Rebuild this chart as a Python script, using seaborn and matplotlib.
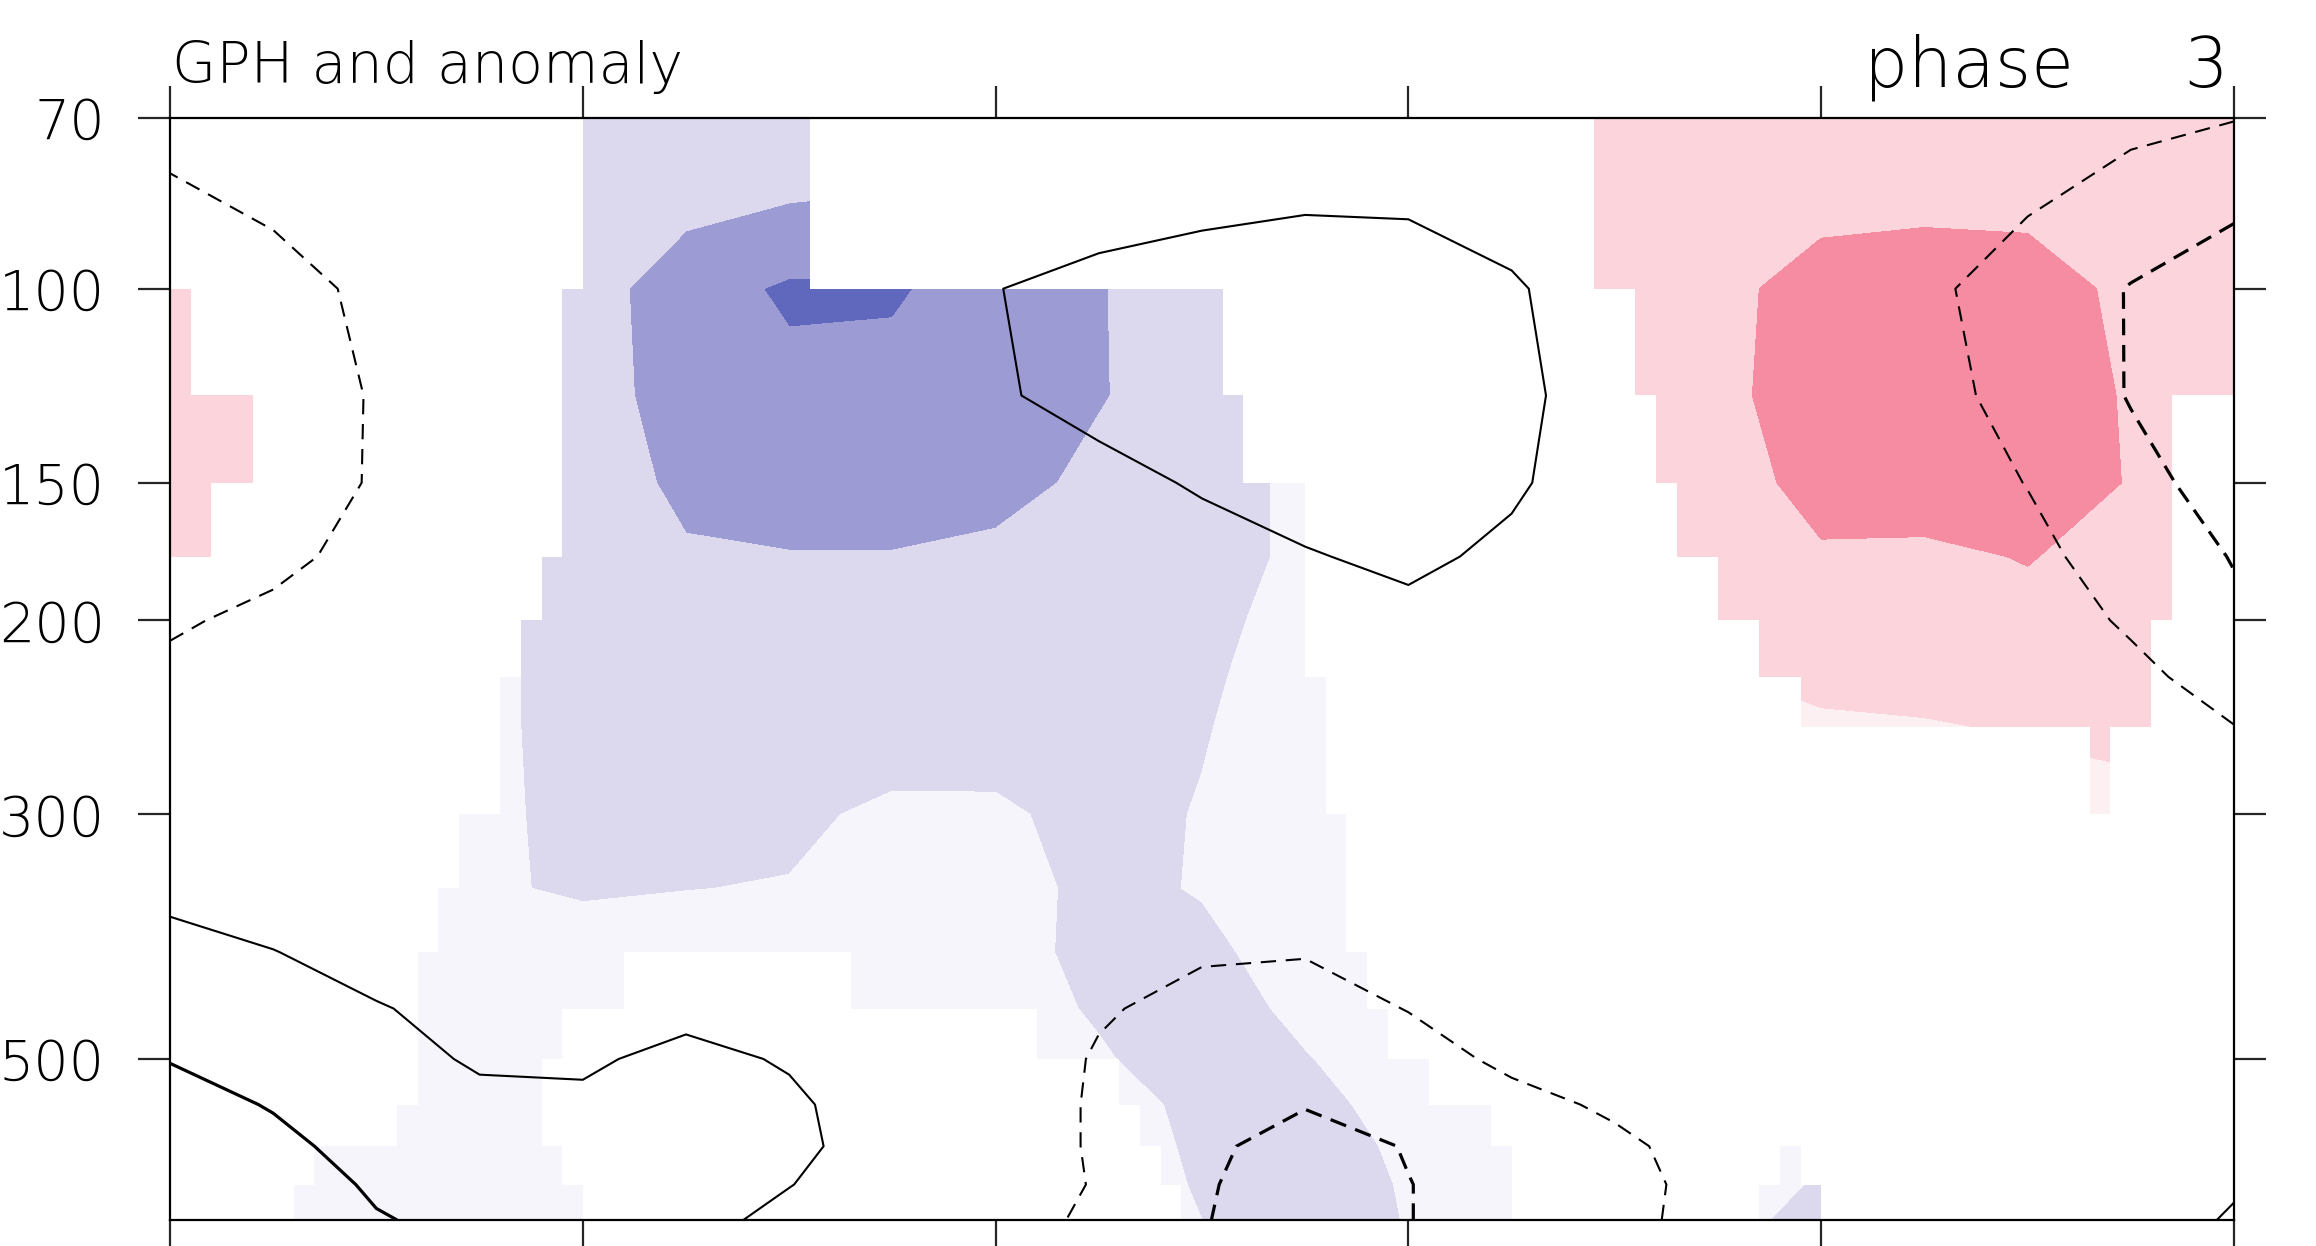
import numpy as np
import matplotlib
matplotlib.use("Agg")
import matplotlib.pyplot as plt
from matplotlib.colors import ListedColormap
from matplotlib.ticker import NullLocator
import seaborn as sns

# grid of the fields: x position (0..100) and pressure levels (hPa)
x_pts = [0, 5, 10, 15, 20, 25, 30, 35, 40, 45, 50, 55, 60, 65, 70, 75, 80, 85, 90, 95, 100]
plev = [70, 100, 125, 150, 175, 200, 225, 250, 300, 350, 400, 450, 500, 550, 600, 650, 700]

# shaded anomaly, one row per pressure level
anom = [
    [0.3, 0.0, -0.4, -0.8, -1.1, -1.1, -1.05, -1.3, -1.2, -1.0, -0.6, -0.2, 0.3, 1.0, 1.3, 1.4, 1.4, 1.4, 1.3, 1.3, 1.3],
    [1.3, 0.8, -0.3, -1.0, -1.55, -2.55, -3.15, -3.1, -2.6, -2.05, -1.5, -1.0, -0.2, 0.5, 1.3, 1.8, 2.3, 2.4, 2.4, 1.8, 1.5],
    [1.5, 1.0, 0.2, -1.2, -1.6, -2.4, -2.7, -2.7, -2.5, -2.05, -1.6, -1.2, -0.4, 0.5, 1.2, 1.8, 2.4, 2.6, 2.6, 1.9, 1.4],
    [1.5, 1.0, 0.0, -1.2, -1.5, -2.2, -2.5, -2.5, -2.3, -1.8, -1.4, -0.8, -0.2, 0.4, 1.1, 1.6, 2.3, 2.5, 2.5, 1.95, 1.4],
    [1.3, 0.8, -0.2, -1.2, -1.5, -1.9, -1.95, -1.95, -1.8, -1.5, -1.2, -0.9, -0.3, 0.3, 1.0, 1.5, 1.9, 1.8, 2.05, 1.6, 1.2],
    [0.8, 0.3, -1.0, -1.3, -1.5, -1.7, -1.75, -1.7, -1.6, -1.4, -1.15, -0.8, -0.3, 0.2, 0.9, 1.3, 1.6, 1.6, 1.7, 1.4, 1.0],
    [0.4, 0.0, -0.6, -0.8, -1.3, -1.5, -1.6, -1.6, -1.5, -1.3, -1.1, -0.7, -0.3, 0.2, 0.6, 0.9, 1.3, 1.4, 1.5, 1.4, 0.9],
    [0.2, -0.2, -0.6, -0.8, -1.3, -1.45, -1.5, -1.5, -1.4, -1.3, -1.05, -0.6, -0.2, 0.1, 0.4, 0.6, 0.8, 0.9, 1.1, 1.3, 0.8],
    [0.0, -0.3, -0.6, -0.8, -1.25, -1.3, -1.2, -0.8, -0.85, -1.3, -0.95, -0.6, -0.2, 0.0, 0.2, 0.3, 0.4, 0.4, 0.5, 0.6, 0.4],
    [-0.1, -0.3, -0.5, -0.9, -1.1, -1.02, -0.95, -0.6, -0.7, -1.2, -0.95, -0.6, -0.3, 0.0, 0.1, 0.1, 0.1, 0.1, 0.2, 0.2, 0.1],
    [-0.1, -0.2, -0.5, -0.6, -0.6, -0.5, -0.5, -0.5, -0.6, -1.3, -1.2, -0.6, -0.2, 0.0, 0.0, 0.0, 0.0, 0.0, 0.0, 0.0, 0.0],
    [-0.1, -0.2, -0.4, -0.5, -0.5, -0.4, -0.4, -0.4, -0.6, -1.1, -1.4, -0.8, -0.3, 0.0, 0.0, 0.0, 0.0, 0.0, 0.0, 0.0, 0.0],
    [-0.1, -0.3, -0.4, -0.45, -0.45, -0.4, -0.35, -0.4, -0.5, -0.9, -1.5, -1.05, -0.5, -0.2, 0.0, 0.0, 0.0, 0.0, 0.0, 0.0, 0.0],
    [-0.1, -0.3, -0.4, -0.45, -0.45, -0.4, -0.35, -0.4, -0.4, -0.5, -1.3, -1.25, -0.7, -0.3, -0.1, -0.2, -0.3, -0.1, 0.0, 0.0, 0.0],
    [-0.1, -0.3, -0.4, -0.45, -0.45, -0.4, -0.35, -0.4, -0.4, -0.4, -1.2, -1.5, -0.8, -0.3, -0.2, -0.5, -0.9, -0.2, 0.0, 0.0, 0.0],
    [-0.1, -0.2, -0.4, -0.45, -0.45, -0.4, -0.35, -0.4, -0.4, -0.4, -1.1, -1.6, -0.9, -0.3, -0.2, -0.5, -1.1, -0.3, 0.0, 0.0, 0.0],
    [-0.1, -0.2, -0.4, -0.45, -0.45, -0.4, -0.35, -0.4, -0.4, -0.4, -1.0, -1.6, -0.95, -0.3, -0.2, -0.8, -1.2, -0.3, 0.0, 0.0, 0.0],
]

# GPH field for the contour lines
gph = [
    [-0.8, -0.6, -0.4, -0.2, 0.0, 0.1, 0.15, 0.2, 0.2, 0.2, 0.35, 0.45, 0.45, 0.3, 0.2, 0.0, -0.2, -0.4, -0.6, -0.8, -0.97],
    [-1.5, -1.25, -0.85, -0.5, -0.2, 0.1, 0.3, 0.6, 0.98, 1.25, 1.4, 1.5, 1.45, 1.1, 0.5, -0.2, -0.5, -0.85, -1.35, -2.05, -2.76],
    [-1.6, -1.35, -0.95, -0.6, -0.3, 0.0, 0.3, 0.6, 0.9, 1.3, 1.45, 1.5, 1.45, 1.2, 0.6, 0.0, -0.3, -0.7, -1.3, -2.05, -2.7],
    [-1.55, -1.3, -0.95, -0.6, -0.3, -0.1, 0.1, 0.3, 0.4, 0.7, 1.1, 1.3, 1.35, 1.1, 0.6, 0.1, -0.2, -0.6, -1.02, -1.7, -2.4],
    [-1.35, -1.15, -0.8, -0.5, -0.3, -0.1, 0.1, 0.2, 0.3, 0.45, 0.6, 0.95, 1.15, 0.85, 0.4, 0.0, -0.2, -0.5, -0.8, -1.35, -2.05],
    [-1.08, -0.85, -0.6, -0.4, -0.2, 0.0, 0.1, 0.15, 0.2, 0.3, 0.4, 0.6, 0.8, 0.6, 0.3, 0.0, -0.2, -0.4, -0.6, -1.1, -1.8],
    [-0.85, -0.65, -0.45, -0.3, -0.1, 0.0, 0.1, 0.1, 0.15, 0.2, 0.3, 0.4, 0.5, 0.4, 0.2, 0.0, -0.2, -0.3, -0.5, -0.8, -1.35],
    [-0.5, -0.4, -0.3, -0.2, -0.1, 0.0, 0.05, 0.1, 0.1, 0.1, 0.2, 0.3, 0.3, 0.25, 0.1, 0.0, -0.1, -0.2, -0.35, -0.6, -0.98],
    [0.3, 0.2, 0.1, 0.0, 0.0, 0.0, 0.0, 0.0, 0.0, 0.0, 0.0, 0.0, 0.1, 0.1, 0.0, 0.0, -0.1, -0.1, -0.2, -0.4, -0.6],
    [0.85, 0.6, 0.4, 0.2, 0.1, 0.1, 0.05, 0.0, -0.1, -0.2, -0.3, -0.3, -0.2, -0.1, 0.0, 0.0, 0.0, 0.0, -0.1, -0.2, -0.3],
    [1.2, 1.02, 0.7, 0.45, 0.35, 0.3, 0.25, 0.1, -0.2, -0.5, -0.9, -0.95, -0.7, -0.4, -0.2, -0.1, 0.0, 0.0, 0.0, 0.0, 0.0],
    [1.6, 1.3, 1.05, 0.75, 0.75, 0.85, 0.75, 0.4, -0.3, -0.9, -1.3, -1.4, -0.97, -0.6, -0.3, -0.1, 0.0, 0.0, 0.0, 0.1, 0.1],
    [1.97, 1.6, 1.3, 0.9, 0.92, 1.15, 0.95, 0.5, -0.3, -1.1, -1.5, -1.7, -1.4, -0.8, -0.5, -0.2, 0.0, 0.1, 0.2, 0.3, 0.4],
    [2.3, 1.95, 1.5, 1.2, 1.1, 1.2, 1.1, 0.7, -0.3, -1.15, -1.7, -1.95, -1.7, -1.3, -0.85, -0.5, -0.2, 0.0, 0.2, 0.3, 0.5],
    [2.5, 2.2, 1.7, 1.4, 1.3, 1.3, 1.15, 0.7, -0.3, -1.15, -1.8, -2.4, -1.95, -1.5, -1.2, -0.6, -0.2, 0.0, 0.2, 0.4, 0.6],
    [2.6, 2.4, 1.9, 1.6, 1.35, 1.3, 1.02, 0.6, -0.3, -1.1, -1.9, -2.5, -2.02, -1.6, -1.3, -0.7, -0.2, 0.0, 0.2, 0.5, 0.9],
    [2.7, 2.5, 2.05, 1.8, 1.5, 1.25, 0.8, 0.4, -0.35, -1.3, -1.95, -2.5, -2.02, -1.6, -1.25, -0.7, -0.2, 0.0, 0.2, 0.5, 1.1],
]

# significant cells (columns start, end) for each layer between two levels
sig_spans = [
    [(20, 31), (69, 100)],
    [(0, 1), (19, 51), (71, 100)],
    [(0, 4), (19, 52), (72, 97)],
    [(0, 2), (19, 55), (73, 97)],
    [(18, 55), (75, 97)],
    [(17, 55), (77, 96)],
    [(16, 56), (79, 96)],
    [(16, 56), (93, 94)],
    [(14, 57)],
    [(13, 57)],
    [(12, 22), (33, 58)],
    [(12, 19), (42, 59)],
    [(12, 18), (46, 61)],
    [(11, 18), (47, 64)],
    [(7, 19), (48, 65), (78, 79)],
    [(6, 20), (49, 65), (77, 80)],
]

shade_levels = [-10, -3, -2, -1, 0, 1, 2, 3, 10]
shade_colors = ["#5f68bc", "#9c9bd4", "#dcd8ee", "#f6f5fb",
                "#fdf0f3", "#fcd4db", "#f58ca1", "#e8506e"]

sns.set_style("white")
plt.rcParams["font.family"] = ["DejaVu Sans"]
plt.rcParams["font.weight"] = "light"
plt.rcParams["lines.scale_dashes"] = False

fig = plt.figure(figsize=(23.16, 12.46), dpi=100)
ax = fig.add_axes([170 / 2316, 26 / 1246, 2064 / 2316, 1102 / 1246])

# filled anomaly
ax.contourf(x_pts, plev, np.array(anom), levels=shade_levels,
            colors=sns.color_palette(shade_colors), zorder=1)

# blank out the cells that are not significant
sig = np.zeros((len(plev) - 1, 100), dtype=bool)
for row, spans in enumerate(sig_spans):
    for a, b in spans:
        sig[row, a:b] = True
blank = np.ma.masked_where(sig, np.ones(sig.shape))
ax.pcolormesh(np.arange(101), plev, blank, cmap=ListedColormap(["white"]),
              vmin=0, vmax=1, shading="flat", antialiased=False,
              edgecolors="none", zorder=2)

# GPH contours: dashed negative, solid positive, thicker for the 2nd level
gph = np.array(gph)
ax.contour(x_pts, plev, gph, levels=[-2], colors="k", linewidths=2.3,
           linestyles=[(0, (12, 7))], zorder=3)
ax.contour(x_pts, plev, gph, levels=[-1], colors="k", linewidths=1.5,
           linestyles=[(0, (11, 7))], zorder=3)
ax.contour(x_pts, plev, gph, levels=[1], colors="k", linewidths=1.5,
           linestyles="solid", zorder=3)
ax.contour(x_pts, plev, gph, levels=[2], colors="k", linewidths=2.3,
           linestyles="solid", zorder=3)

ax.set_yscale("log")
ax.set_ylim(700, 70)
ax.set_xlim(0, 100)
ax.set_xticks([0, 20, 40, 60, 80, 100])
ax.set_xticklabels([])
ax.set_yticks([70, 100, 150, 200, 300, 500])
ax.set_yticklabels(["70", "100", "150", "200", "300", "500"])
ax.yaxis.set_minor_locator(NullLocator())
ax.tick_params(axis="x", direction="out", length=23, width=1.6,
               top=True, bottom=True)
ax.tick_params(axis="y", direction="out", length=23, width=1.6,
               left=True, right=True, labelsize=40, pad=24,
               labelcolor="black")
for s in ax.spines.values():
    s.set_linewidth(1.6)
    s.set_color("k")
    s.set_zorder(5)

ax.text(0.001, 1.032, "GPH and anomaly", transform=ax.transAxes,
        fontsize=41, ha="left", va="baseline", color="black")
ax.text(0.9976, 1.0285, "phase     3", transform=ax.transAxes,
        fontsize=50, ha="right", va="baseline", color="black")

fig.savefig("out.png", dpi=100)
